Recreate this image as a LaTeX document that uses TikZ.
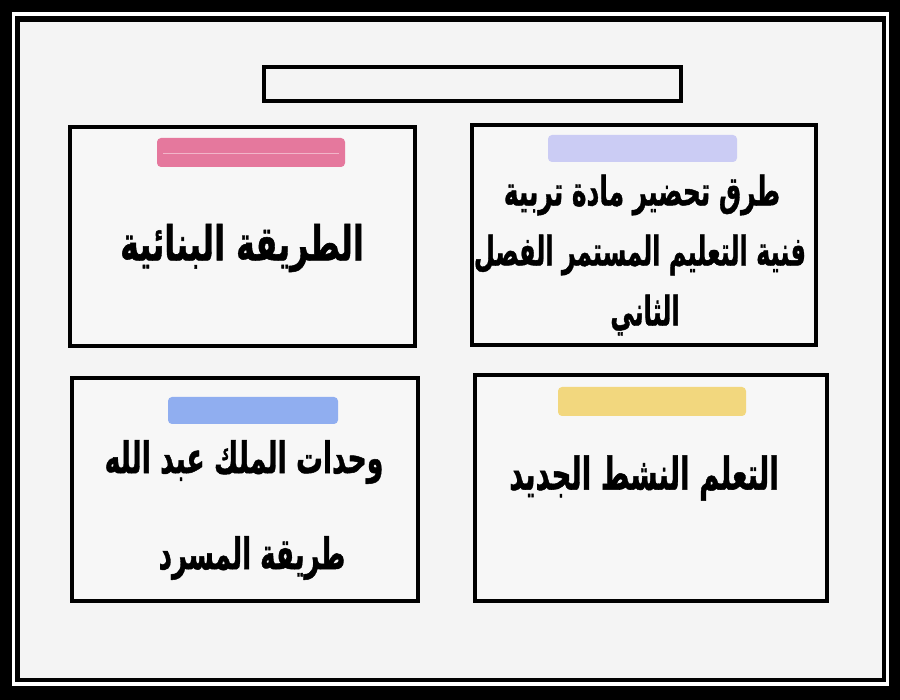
\documentclass[tikz,border=0pt]{standalone}
\usepackage{fontspec}
\usepackage{graphicx}
\newfontfamily\arabicfont[Script=Arabic, BoldFeatures={FakeBold=1.2}]{DejaVu Sans}
\TeXXeTstate=1
\definecolor{bggray}{HTML}{F4F4F4}
\definecolor{boxgray}{HTML}{F7F7F7}
\definecolor{pinkbar}{HTML}{E5789D}
\definecolor{pinkline}{HTML}{F2B5C9}
\definecolor{lavbar}{HTML}{CBCCF4}
\definecolor{bluebar}{HTML}{90AEF0}
\definecolor{yellowbar}{HTML}{F2D77E}
\newcommand{\artext}[3]{\scalebox{#1}[#2]{\arabicfont\bfseries\fontsize{30}{36}\selectfont #3}}
\tikzset{
  panel/.style={draw=black, line width=3.5pt, fill=boxgray, inner sep=0pt},
  bar/.style={rounded corners=4pt, inner sep=0pt},
  label/.style={text=black, inner sep=0pt}
}
\begin{document}
\begin{tikzpicture}[x=1pt,y=-1pt]
\useasboundingbox (0,0) rectangle (900,700);
% frame
\fill[black] (0,0) rectangle (900,700);
\fill[white] (12,12) rectangle (889,686);
\fill[black] (15,16) rectangle (886,682);
\fill[bggray] (20,22) rectangle (882,678);
% title box
\node[panel, fill=bggray, line width=4pt, minimum width=417pt, minimum height=34pt] (title) at (472.5,84) {};
% panels
\node[panel, minimum width=345pt, minimum height=219pt] (tl) at (242.5,236.5) {};
\node[panel, minimum width=344pt, minimum height=220pt] (tr) at (644,235) {};
\node[panel, minimum width=346pt, minimum height=223pt] (bl) at (245,489.5) {};
\node[panel, minimum width=352pt, minimum height=226pt] (br) at (651,488) {};
% bars
\node[bar, fill=pinkbar, minimum width=188pt, minimum height=29pt] (pbar) at (251,152.5) {};
\draw[pinkline, line width=1.2pt] ([xshift=6pt,yshift=-1pt]pbar.west) -- ([xshift=-6pt,yshift=-1pt]pbar.east);
\node[bar, fill=lavbar, minimum width=189pt, minimum height=27pt] (lbar) at (642.5,148.5) {};
\node[bar, fill=bluebar, minimum width=170pt, minimum height=27pt] (bbar) at (253,410.5) {};
\node[bar, fill=yellowbar, minimum width=188pt, minimum height=29pt] (ybar) at (652,401.5) {};
% texts
\node[label] (ttl) at (242,248) {\artext{1.06}{1.6}{\beginR الطريقة البنائية\endR}};
\node[label] (ttr1) at (642,195) {\artext{0.83}{1.35}{\beginR طرق تحضير مادة تربية\endR}};
\node[label] (ttr2) at (640,255) {\artext{0.8}{1.35}{\beginR فنية التعليم المستمر الفصل\endR}};
\node[label] (ttr3) at (645,315) {\artext{0.8}{1.35}{\beginR الثاني\endR}};
\node[label] (tbl1) at (244,462) {\artext{0.89}{1.45}{\beginR وحدات الملك عبد الله\endR}};
\node[label] (tbl2) at (252,558) {\artext{0.87}{1.45}{\beginR طريقة المسرد\endR}};
\node[label] (tbr) at (644,478) {\artext{0.92}{1.5}{\beginR التعلم النشط الجديد\endR}};
\end{tikzpicture}
\end{document}
